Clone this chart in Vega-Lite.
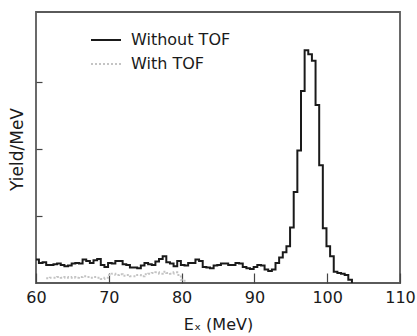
{
  "$schema": "https://vega.github.io/schema/vega-lite/v6.json",
  "width": 364,
  "height": 271,
  "autosize": "none",
  "padding": {"left": 36, "top": 12, "right": 17, "bottom": 53},
  "background": "white",
  "config": {
    "font": "DejaVu Sans",
    "view": {"stroke": "#5a5a5a", "strokeWidth": 1.8},
    "axis": {"grid": false, "domain": false, "labelFont": "DejaVu Sans", "titleFont": "DejaVu Sans", "labelColor": "#1a1a1a", "titleColor": "#1a1a1a", "tickColor": "#444", "tickWidth": 1.2}
  },
  "datasets": {
    "spec": [
      {"s": "With TOF", "e": 61.4, "y": 0.07},
      {"s": "With TOF", "e": 61.9, "y": 0.08},
      {"s": "With TOF", "e": 62.4, "y": 0.08},
      {"s": "With TOF", "e": 62.9, "y": 0.09},
      {"s": "With TOF", "e": 63.4, "y": 0.08},
      {"s": "With TOF", "e": 63.9, "y": 0.09},
      {"s": "With TOF", "e": 64.4, "y": 0.08},
      {"s": "With TOF", "e": 64.9, "y": 0.09},
      {"s": "With TOF", "e": 65.4, "y": 0.08},
      {"s": "With TOF", "e": 65.9, "y": 0.09},
      {"s": "With TOF", "e": 66.4, "y": 0.10},
      {"s": "With TOF", "e": 66.9, "y": 0.09},
      {"s": "With TOF", "e": 67.4, "y": 0.08},
      {"s": "With TOF", "e": 67.9, "y": 0.09},
      {"s": "With TOF", "e": 68.4, "y": 0.08},
      {"s": "With TOF", "e": 68.9, "y": 0.06},
      {"s": "With TOF", "e": 69.4, "y": 0.08},
      {"s": "With TOF", "e": 69.9, "y": 0.12},
      {"s": "With TOF", "e": 70.4, "y": 0.14},
      {"s": "With TOF", "e": 70.9, "y": 0.12},
      {"s": "With TOF", "e": 71.4, "y": 0.13},
      {"s": "With TOF", "e": 71.9, "y": 0.11},
      {"s": "With TOF", "e": 72.4, "y": 0.12},
      {"s": "With TOF", "e": 72.9, "y": 0.10},
      {"s": "With TOF", "e": 73.4, "y": 0.10},
      {"s": "With TOF", "e": 73.9, "y": 0.12},
      {"s": "With TOF", "e": 74.4, "y": 0.10},
      {"s": "With TOF", "e": 74.9, "y": 0.13},
      {"s": "With TOF", "e": 75.4, "y": 0.14},
      {"s": "With TOF", "e": 75.9, "y": 0.15},
      {"s": "With TOF", "e": 76.4, "y": 0.16},
      {"s": "With TOF", "e": 76.9, "y": 0.14},
      {"s": "With TOF", "e": 77.4, "y": 0.17},
      {"s": "With TOF", "e": 77.9, "y": 0.15},
      {"s": "With TOF", "e": 78.4, "y": 0.14},
      {"s": "With TOF", "e": 78.9, "y": 0.16},
      {"s": "With TOF", "e": 79.4, "y": 0.12},
      {"s": "With TOF", "e": 79.9, "y": 0.05},
      {"s": "With TOF", "e": 80.4, "y": 0.02},
      {"s": "Without TOF", "e": 59.9, "y": 0.35},
      {"s": "Without TOF", "e": 60.4, "y": 0.30},
      {"s": "Without TOF", "e": 60.9, "y": 0.31},
      {"s": "Without TOF", "e": 61.4, "y": 0.27},
      {"s": "Without TOF", "e": 61.9, "y": 0.27},
      {"s": "Without TOF", "e": 62.4, "y": 0.28},
      {"s": "Without TOF", "e": 62.9, "y": 0.29},
      {"s": "Without TOF", "e": 63.4, "y": 0.27},
      {"s": "Without TOF", "e": 63.9, "y": 0.25},
      {"s": "Without TOF", "e": 64.4, "y": 0.26},
      {"s": "Without TOF", "e": 64.9, "y": 0.29},
      {"s": "Without TOF", "e": 65.4, "y": 0.30},
      {"s": "Without TOF", "e": 65.9, "y": 0.29},
      {"s": "Without TOF", "e": 66.4, "y": 0.35},
      {"s": "Without TOF", "e": 66.9, "y": 0.33},
      {"s": "Without TOF", "e": 67.4, "y": 0.30},
      {"s": "Without TOF", "e": 67.9, "y": 0.34},
      {"s": "Without TOF", "e": 68.4, "y": 0.36},
      {"s": "Without TOF", "e": 68.9, "y": 0.27},
      {"s": "Without TOF", "e": 69.4, "y": 0.24},
      {"s": "Without TOF", "e": 69.9, "y": 0.30},
      {"s": "Without TOF", "e": 70.4, "y": 0.29},
      {"s": "Without TOF", "e": 70.9, "y": 0.33},
      {"s": "Without TOF", "e": 71.4, "y": 0.33},
      {"s": "Without TOF", "e": 71.9, "y": 0.28},
      {"s": "Without TOF", "e": 72.4, "y": 0.27},
      {"s": "Without TOF", "e": 72.9, "y": 0.23},
      {"s": "Without TOF", "e": 73.4, "y": 0.23},
      {"s": "Without TOF", "e": 73.9, "y": 0.22},
      {"s": "Without TOF", "e": 74.4, "y": 0.26},
      {"s": "Without TOF", "e": 74.9, "y": 0.30},
      {"s": "Without TOF", "e": 75.4, "y": 0.28},
      {"s": "Without TOF", "e": 75.9, "y": 0.27},
      {"s": "Without TOF", "e": 76.4, "y": 0.32},
      {"s": "Without TOF", "e": 76.9, "y": 0.36},
      {"s": "Without TOF", "e": 77.4, "y": 0.40},
      {"s": "Without TOF", "e": 77.9, "y": 0.31},
      {"s": "Without TOF", "e": 78.4, "y": 0.29},
      {"s": "Without TOF", "e": 78.9, "y": 0.25},
      {"s": "Without TOF", "e": 79.4, "y": 0.33},
      {"s": "Without TOF", "e": 79.9, "y": 0.27},
      {"s": "Without TOF", "e": 80.4, "y": 0.26},
      {"s": "Without TOF", "e": 80.9, "y": 0.30},
      {"s": "Without TOF", "e": 81.4, "y": 0.30},
      {"s": "Without TOF", "e": 81.9, "y": 0.35},
      {"s": "Without TOF", "e": 82.4, "y": 0.33},
      {"s": "Without TOF", "e": 82.9, "y": 0.24},
      {"s": "Without TOF", "e": 83.4, "y": 0.23},
      {"s": "Without TOF", "e": 83.9, "y": 0.22},
      {"s": "Without TOF", "e": 84.4, "y": 0.26},
      {"s": "Without TOF", "e": 84.9, "y": 0.27},
      {"s": "Without TOF", "e": 85.4, "y": 0.29},
      {"s": "Without TOF", "e": 85.9, "y": 0.29},
      {"s": "Without TOF", "e": 86.4, "y": 0.27},
      {"s": "Without TOF", "e": 86.9, "y": 0.27},
      {"s": "Without TOF", "e": 87.4, "y": 0.30},
      {"s": "Without TOF", "e": 87.9, "y": 0.29},
      {"s": "Without TOF", "e": 88.4, "y": 0.24},
      {"s": "Without TOF", "e": 88.9, "y": 0.22},
      {"s": "Without TOF", "e": 89.4, "y": 0.21},
      {"s": "Without TOF", "e": 89.9, "y": 0.24},
      {"s": "Without TOF", "e": 90.4, "y": 0.27},
      {"s": "Without TOF", "e": 90.9, "y": 0.26},
      {"s": "Without TOF", "e": 91.4, "y": 0.20},
      {"s": "Without TOF", "e": 91.9, "y": 0.18},
      {"s": "Without TOF", "e": 92.4, "y": 0.20},
      {"s": "Without TOF", "e": 92.9, "y": 0.30},
      {"s": "Without TOF", "e": 93.4, "y": 0.38},
      {"s": "Without TOF", "e": 93.9, "y": 0.46},
      {"s": "Without TOF", "e": 94.4, "y": 0.55},
      {"s": "Without TOF", "e": 94.9, "y": 0.83},
      {"s": "Without TOF", "e": 95.4, "y": 1.36},
      {"s": "Without TOF", "e": 95.9, "y": 1.98},
      {"s": "Without TOF", "e": 96.4, "y": 2.87},
      {"s": "Without TOF", "e": 96.9, "y": 3.48},
      {"s": "Without TOF", "e": 97.4, "y": 3.42},
      {"s": "Without TOF", "e": 97.9, "y": 3.32},
      {"s": "Without TOF", "e": 98.4, "y": 2.66},
      {"s": "Without TOF", "e": 98.9, "y": 1.76},
      {"s": "Without TOF", "e": 99.4, "y": 0.82},
      {"s": "Without TOF", "e": 99.9, "y": 0.55},
      {"s": "Without TOF", "e": 100.4, "y": 0.40},
      {"s": "Without TOF", "e": 100.9, "y": 0.17},
      {"s": "Without TOF", "e": 101.4, "y": 0.15},
      {"s": "Without TOF", "e": 101.9, "y": 0.14},
      {"s": "Without TOF", "e": 102.4, "y": 0.12},
      {"s": "Without TOF", "e": 102.9, "y": 0.05},
      {"s": "Without TOF", "e": 103.4, "y": 0.0}
    ]
  },
  "data": {"name": "spec"},
  "mark": {"type": "line", "interpolate": "step-after", "clip": true},
  "encoding": {
    "x": {
      "field": "e", "type": "quantitative",
      "scale": {"domain": [60, 110], "nice": false, "zero": false},
      "axis": {"values": [60, 70, 80, 90, 100, 110], "tickSize": -10, "labelPadding": 16, "labelFlush": false, "labelFontSize": 16, "title": "Eₓ (MeV)", "titleFontSize": 16, "titleFontWeight": "normal", "titlePadding": 11}
    },
    "y": {
      "field": "y", "type": "quantitative",
      "scale": {"domain": [0, 4.05], "nice": false},
      "axis": {"values": [1, 2, 3], "tickSize": -6, "labels": false, "title": "Yield/MeV", "titleFontSize": 17, "titleFontWeight": "normal", "titleX": -19, "titleY": 137, "titleBaseline": "middle"}
    },
    "color": {
      "field": "s", "type": "nominal",
      "scale": {"domain": ["Without TOF", "With TOF"], "range": ["#1a1a1a", "#c4c4c4"]},
      "legend": {"title": null, "orient": "none", "legendX": 54, "legendY": 12, "symbolType": "stroke", "symbolSize": 900, "symbolStrokeWidth": 2, "labelFont": "DejaVu Sans", "labelFontSize": 16, "labelColor": "#1a1a1a", "labelOffset": 9, "rowPadding": 0, "padding": 0}
    },
    "strokeDash": {
      "field": "s", "type": "nominal",
      "scale": {"domain": ["Without TOF", "With TOF"], "range": [[1, 0], [2, 2]]},
      "legend": {"title": null, "orient": "none", "legendX": 54, "legendY": 12, "symbolType": "stroke", "symbolSize": 900, "symbolStrokeWidth": 2, "labelFont": "DejaVu Sans", "labelFontSize": 16, "labelColor": "#1a1a1a", "labelOffset": 9, "rowPadding": 0, "padding": 0}
    },
    "strokeWidth": {"value": 2}
  }
}
